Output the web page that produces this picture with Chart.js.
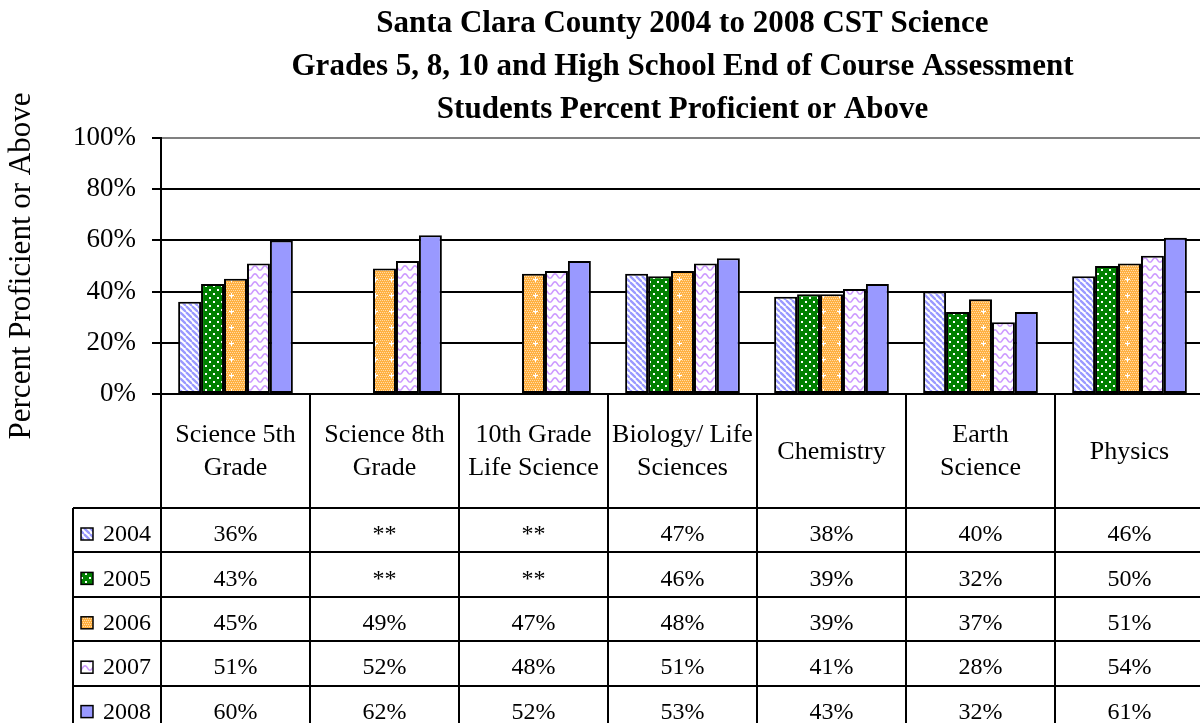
<!DOCTYPE html>
<html>
<head>
<meta charset="utf-8">
<script src="https://cdn.jsdelivr.net/npm/chart.js@4/dist/chart.umd.min.js"></script>
<style>
  html, body { margin: 0; padding: 0; background: #fff; overflow: hidden; }
  #wrap { width: 1205px; height: 723px; }
</style>
</head>
<body>
<div id="wrap"><canvas id="chart" width="1205" height="723"></canvas></div>
<script>
// data
const categories = [
  ["Science 5th", "Grade"],
  ["Science 8th", "Grade"],
  ["10th Grade", "Life Science"],
  ["Biology/ Life", "Sciences"],
  ["Chemistry"],
  ["Earth", "Science"],
  ["Physics"]
];
const years = ["2004", "2005", "2006", "2007", "2008"];
const values2004 = [36, null, null, 47, 38, 40, 46];
const values2005 = [43, null, null, 46, 39, 32, 50];
const values2006 = [45, 49, 47, 48, 39, 37, 51];
const values2007 = [51, 52, 48, 51, 41, 28, 54];
const values2008 = [60, 62, 52, 53, 43, 32, 61];
const yTicks = [0, 20, 40, 60, 80, 100];

const seriesValues = [values2004, values2005, values2006, values2007, values2008];

// small tile patterns like the excel fills
function tile(w, h, draw) {
  const c = document.createElement("canvas");
  c.width = w; c.height = h;
  const g = c.getContext("2d");
  draw(g, w, h);
  return document.createElement("canvas").getContext("2d").createPattern(c, "repeat");
}

const fills = [
  // 2004 blue diagonal stripes
  tile(6, 6, (g, w, h) => {
    g.fillStyle = "#fff"; g.fillRect(0, 0, w, h);
    g.strokeStyle = "#9999FF"; g.lineWidth = 2.3;
    for (let x = -6; x <= 6; x += 6) {
      g.beginPath(); g.moveTo(x, 0); g.lineTo(x + 6, 6); g.stroke();
    }
  }),
  // 2005 green check
  tile(8, 8, (g, w, h) => {
    g.fillStyle = "#008000"; g.fillRect(0, 0, w, h);
    g.fillStyle = "#fff";
    g.fillRect(1, 1, 2, 2); g.fillRect(5, 5, 2, 2);
  }),
  // 2006 orange dotted with little crosses
  tile(16, 16, (g, w, h) => {
    g.fillStyle = "#FFB040"; g.fillRect(0, 0, w, h);
    g.fillStyle = "rgba(255,255,255,0.55)";
    for (let y = 0; y < h; y += 2)
      for (let x = (y % 4) / 2; x < w; x += 2) g.fillRect(x, y, 1, 1);
    g.fillStyle = "#fff";
    g.fillRect(7, 5, 1, 5); g.fillRect(5, 7, 5, 1);
  }),
  // 2007 lavender waves
  tile(10, 8, (g, w, h) => {
    g.fillStyle = "#fff"; g.fillRect(0, 0, w, h);
    g.strokeStyle = "#CC99FF"; g.lineWidth = 1.5;
    g.beginPath();
    for (let x = 0; x <= w; x++) {
      const y = 4 + 2.3 * Math.cos((2 * Math.PI * x) / w);
      if (x === 0) g.moveTo(x, y); else g.lineTo(x, y);
    }
    g.stroke();
  }),
  // 2008 solid
  "#9999FF"
];

const serif = "'Liberation Serif', 'Times New Roman', serif";
Chart.defaults.font.family = serif;
Chart.defaults.color = "#000";

// draws the data table under the plot, columns taken from the x scale
const dataTable = {
  id: "dataTable",
  afterDraw(chart) {
    const ctx = chart.ctx;
    const xs = chart.scales.x;
    const area = chart.chartArea;
    const n = categories.length;
    const colW = (xs.right - xs.left) / n;
    const headTop = area.bottom;
    const headBot = 508;
    const rowH = 44.4;
    const legLeft = 73;
    const bottom = chart.height + 10;

    ctx.save();
    ctx.strokeStyle = "#000";
    ctx.lineWidth = 2;
    ctx.beginPath();
    for (let i = 0; i <= n; i++) {
      const x = Math.round(xs.left + i * colW);
      ctx.moveTo(x, headTop); ctx.lineTo(x, bottom);
    }
    ctx.moveTo(legLeft, headBot); ctx.lineTo(legLeft, bottom);
    for (let r = 0; r <= years.length; r++) {
      const y = Math.round(headBot + r * rowH);
      ctx.moveTo(legLeft, y); ctx.lineTo(xs.right + 5, y);
    }
    ctx.stroke();

    ctx.fillStyle = "#000";
    ctx.font = "26px " + serif;
    ctx.textAlign = "center";
    ctx.textBaseline = "middle";
    const headMid = (headTop + headBot) / 2;
    categories.forEach((lines, i) => {
      const cx = xs.getPixelForValue(i);
      const lh = 33;
      lines.forEach((t, k) => {
        ctx.fillText(t, cx, headMid + (k - (lines.length - 1) / 2) * lh + 1);
      });
    });

    ctx.font = "24px " + serif;
    years.forEach((yr, r) => {
      const ty = headBot + r * rowH + 27;
      // legend key
      ctx.fillStyle = fills[r];
      ctx.fillRect(81, ty - 7, 12, 12);
      ctx.lineWidth = 1.5;
      ctx.strokeRect(81, ty - 7, 12, 12);
      ctx.fillStyle = "#000";
      ctx.textAlign = "left";
      ctx.fillText(yr, 103, ty);
      ctx.textAlign = "center";
      seriesValues[r].forEach((v, i) => {
        ctx.fillText(v === null ? "**" : v + "%", xs.getPixelForValue(i), ty);
      });
    });
    ctx.restore();
  }
};

new Chart(document.getElementById("chart"), {
  type: "bar",
  data: {
    labels: categories,
    datasets: years.map((yr, r) => ({
      label: yr,
      data: seriesValues[r],
      backgroundColor: fills[r],
      borderColor: "#000",
      borderWidth: 2,
      borderSkipped: false,
      categoryPercentage: 0.77,
      barPercentage: 1.0
    }))
  },
  options: {
    responsive: false,
    animation: false,
    layout: { padding: { left: 0, right: 1, top: 0, bottom: 329 } },
    plugins: {
      legend: { display: false },
      tooltip: { enabled: false },
      title: {
        display: true,
        fullSize: false,
        text: [
          "Santa Clara County 2004 to 2008 CST Science",
          "Grades 5, 8, 10 and High School End of Course Assessment",
          "Students Percent Proficient or Above"
        ],
        font: { size: 31, weight: "bold", lineHeight: 1.387 },
        color: "#000",
        padding: { top: 2, bottom: 7 }
      }
    },
    scales: {
      x: { display: false },
      y: {
        min: 0,
        max: 100,
        afterBuildTicks(scale) {
          scale.ticks = yTicks.map(v => ({ value: v }));
        },
        afterFit(scale) { scale.width = 161; },
        ticks: {
          callback: v => v + "%",
          font: { size: 27 },
          color: "#000",
          padding: 16
        },
        grid: {
          color: c => (c.tick && c.tick.value === 100 ? "#808080" : "#000"),
          tickColor: "#000",
          lineWidth: 2,
          tickLength: 9
        },
        border: { display: true, color: "#000", width: 2 },
        title: {
          display: true,
          text: "Percent Proficient or Above",
          font: { size: 31 },
          color: "#000",
          padding: { top: 3, bottom: 0 }
        }
      }
    }
  },
  plugins: [dataTable]
});
</script>
</body>
</html>
